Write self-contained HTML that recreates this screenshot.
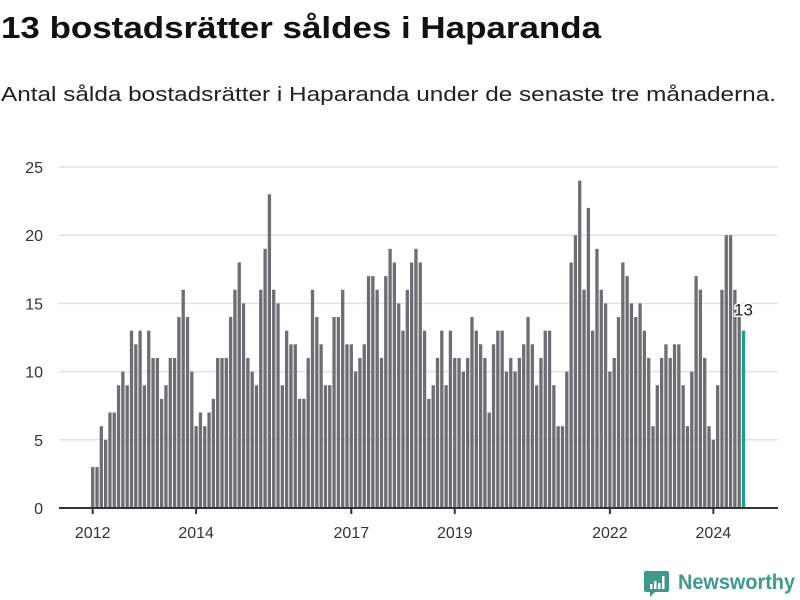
<!DOCTYPE html>
<html><head><meta charset="utf-8"><style>
html,body{margin:0;padding:0;background:#fff;width:800px;height:600px;overflow:hidden;font-family:"Liberation Sans",sans-serif;}
</style></head><body>
<svg id="chart" width="800" height="600" xmlns="http://www.w3.org/2000/svg">
<text x="1" y="38" font-family="Liberation Sans, sans-serif" font-weight="bold" font-size="31" fill="#111" textLength="600" lengthAdjust="spacingAndGlyphs">13 bostadsrätter såldes i Haparanda</text>
<text x="1" y="101" font-family="Liberation Sans, sans-serif" font-size="20" fill="#222" textLength="775" lengthAdjust="spacingAndGlyphs">Antal sålda bostadsrätter i Haparanda under de senaste tre månaderna.</text>
<g id="grid"></g>
<g id="ylabels"></g>
<g id="bars"></g>
<g id="xaxis"></g>
<g>
  <path d="M646 571 h21 a2 2 0 0 1 2 2 v17 a2 2 0 0 1 -2 2 h-12 l-5 5 v-5 h-4 a2 2 0 0 1 -2 -2 v-17 a2 2 0 0 1 2 -2z" fill="#3d9a8b"/>
  <rect x="650" y="584" width="2.5" height="5" fill="#fff"/>
  <rect x="654" y="581" width="2.5" height="8" fill="#fff"/>
  <rect x="658" y="583" width="2.5" height="6" fill="#fff"/>
  <rect x="662" y="576" width="2.5" height="13" fill="#fff"/>
  <text x="678" y="589" font-family="Liberation Sans, sans-serif" font-weight="bold" font-size="21" fill="#3d9a8b" textLength="117" lengthAdjust="spacingAndGlyphs">Newsworthy</text>
</g>
</svg>
<script>
const years = [2012,2013,2014,2015,2016,2017,2018,2019,2020,2021,2022,2023,2024];
const values = [
 3,3,6,5,7,7,9,10,9,13,12,13,
 9,13,11,11,8,9,11,11,14,16,14,10,
 6,7,6,7,8,11,11,11,14,16,18,15,
 11,10,9,16,19,23,16,15,9,13,12,12,
 8,8,11,16,14,12,9,9,14,14,16,12,
 12,10,11,12,17,17,16,11,17,19,18,15,
 13,16,18,19,18,13,8,9,11,13,9,13,
 11,11,10,11,14,13,12,11,7,12,13,13,
 10,11,10,11,12,14,12,9,11,13,13,9,
 6,6,10,18,20,24,16,22,13,19,16,15,
 10,11,14,18,17,15,14,15,13,11,6,9,
 11,12,11,12,12,9,6,10,17,16,11,6,
 5,9,16,20,20,16,14,13
];
const yTicks = [0,5,10,15,20,25];
const xTickYears = [2012,2014,2017,2019,2022,2024];

const NS='http://www.w3.org/2000/svg';
const x0=92.7, step=4.31, y0=508, yTop=167, yMax=25;
const xScale = i => x0 + i*step;
const yScale = v => y0 - v*(y0-yTop)/yMax;
function mk(tag, attrs, parent){const e=document.createElementNS(NS,tag);for(const k in attrs)e.setAttribute(k,attrs[k]);parent.appendChild(e);return e;}
const grid=document.getElementById('grid'), yl=document.getElementById('ylabels'), bars=document.getElementById('bars'), xa=document.getElementById('xaxis');
yTicks.forEach(t=>{
  if(t>0){const l=mk('line',{x1:59,x2:778,y1:yScale(t),y2:yScale(t),stroke:'#e2e2e2','stroke-width':1.5},grid);
  
  }
  const tx=mk('text',{x:43,y:yScale(t)+6,'text-anchor':'end','font-size':16,fill:'#333','font-family':'Liberation Sans, sans-serif'},yl);
  tx.textContent=t;
  
  
});
values.forEach((v,i)=>{
  const last=i===values.length-1;
  const r=mk('rect',{x:xScale(i)-1.65,y:yScale(v),width:3.3,height:y0-yScale(v),fill:last?'#1a9e92':'#6e6d72'},bars);
  
  
});
const li=values.length-1;
const lab=mk('text',{x:xScale(li),y:yScale(values[li])-15,'text-anchor':'middle','font-size':17,fill:'#222',stroke:'#fff','stroke-width':3,'paint-order':'stroke','font-family':'Liberation Sans, sans-serif'},bars);
lab.textContent=values[li];


const ax=mk('line',{x1:59,x2:778,y1:y0,y2:y0,stroke:'#333','stroke-width':2},xa);


xTickYears.forEach(yr=>{
  const idx=(yr-years[0])*12;
  const x=xScale(idx);
  const tk=mk('line',{x1:x,x2:x,y1:y0,y2:y0+6,stroke:'#333','stroke-width':2},xa);
  
  
  const tx=mk('text',{x:x,y:y0+30,'text-anchor':'middle','font-size':16,fill:'#333','font-family':'Liberation Sans, sans-serif'},xa);
  tx.textContent=yr;
  
  
});
</script>
</body></html>
